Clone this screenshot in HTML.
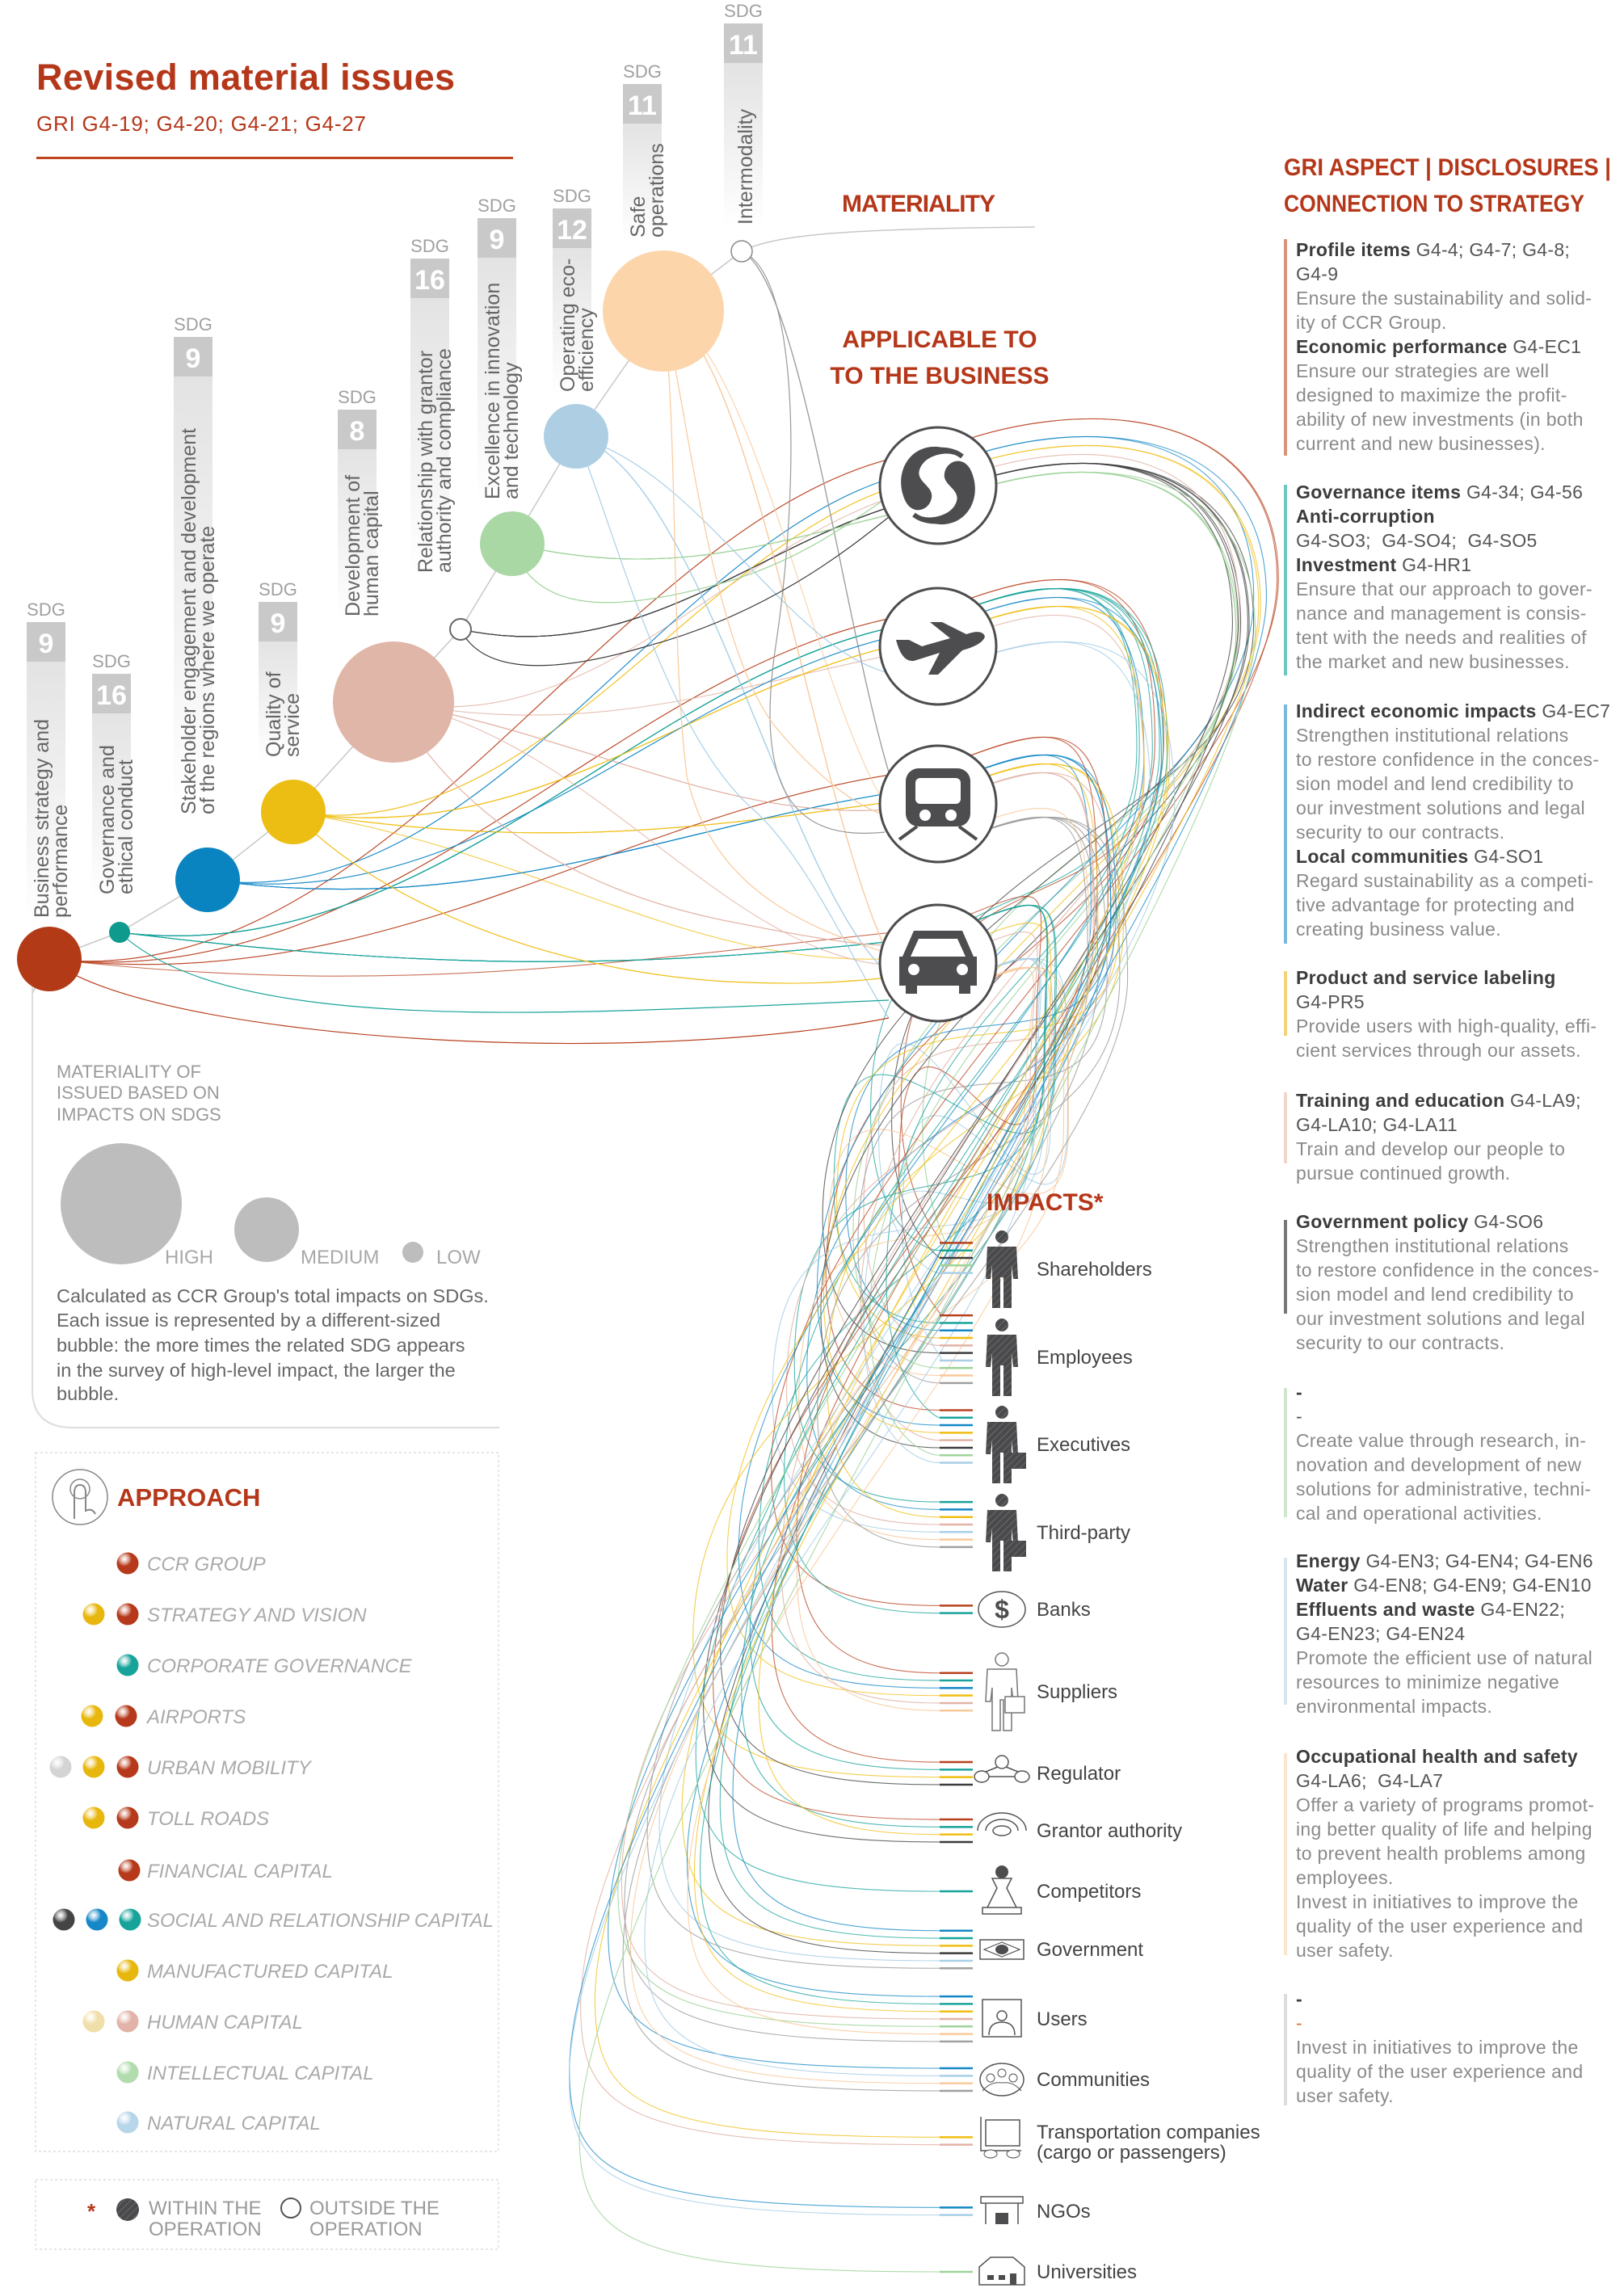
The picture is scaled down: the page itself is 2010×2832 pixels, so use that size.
<!DOCTYPE html>
<html><head><meta charset="utf-8">
<style>
body{margin:0;background:#fff;}
#wrap{position:relative;width:2010px;height:2832px;overflow:hidden;font-family:"Liberation Sans",sans-serif;}
svg{position:absolute;left:0;top:0;}
.blk{position:absolute;left:1604px;font-size:23px;line-height:30px;color:#8a8a8a;white-space:pre;letter-spacing:0.3px;}
.blk b{color:#3c3c3c;}
.blk i{font-style:normal;color:#555;}
.bar{position:absolute;left:1589px;width:4px;}
</style></head><body><div id="wrap">
<svg id="svg" width="2010" height="2832" viewBox="0 0 2010 2832" xmlns="http://www.w3.org/2000/svg" font-family="Liberation Sans, sans-serif">
<defs>
<linearGradient id="sbar" x1="0" y1="0" x2="0" y2="1"><stop offset="0" stop-color="#e3e3e3"/><stop offset="1" stop-color="#fff"/></linearGradient>
<pattern id="hatch" width="6" height="6" patternUnits="userSpaceOnUse" patternTransform="rotate(45)"><rect width="6" height="6" fill="#4a4a4c"/><line x1="0" y1="0" x2="0" y2="6" stroke="#8a8a8a" stroke-width="1"/></pattern>
</defs>
<g id="curves" fill="none"></g>

<text x="45" y="111" font-size="45" font-weight="bold" fill="#b5371a" textLength="518">Revised material issues</text>
<text x="45" y="162" font-size="26" fill="#b5371a" textLength="408">GRI G4-19; G4-20; G4-21; G4-27</text>
<rect x="45" y="194" width="590" height="3" fill="#c0451f"/>

<polyline points="40,1230 61,1187 148,1154 257,1089 363,1005 487,869 570,779 634,673 713,540 821,385 918,311" fill="none" stroke="#c8c8c8" stroke-width="1.5"/>
<path d="M918 311 C960 290 1050 283 1281 281" fill="none" stroke="#c8c8c8" stroke-width="1.5"/>
<line x1="40" y1="1187" x2="40" y2="1720" stroke="#ddd" stroke-width="2"/>
<path d="M40 1720 Q40 1767 90 1767 L618 1767" fill="none" stroke="#ddd" stroke-width="2"/>
<text x="1042" y="262" font-size="30" font-weight="bold" fill="#b5371a" textLength="190">MATERIALITY</text>
<text x="1163" y="430" font-size="30" font-weight="bold" fill="#b5371a" text-anchor="middle">APPLICABLE TO</text>
<text x="1163" y="475" font-size="30" font-weight="bold" fill="#b5371a" text-anchor="middle">TO THE BUSINESS</text>

<g id="sdg"></g>
<g id="bubbles"></g>
<g id="icons"></g>
<g id="stake"></g>

<g fill="#9a9a9a" font-size="22">
<text x="70" y="1334">MATERIALITY OF</text>
<text x="70" y="1360">ISSUED BASED ON</text>
<text x="70" y="1387">IMPACTS ON SDGS</text>
</g>
<circle cx="150" cy="1490" r="75" fill="#bdbdbe"/>
<circle cx="330" cy="1522" r="40" fill="#bdbdbe"/>
<circle cx="511" cy="1550" r="13" fill="#bdbdbe"/>
<g fill="#a8a8a8" font-size="24">
<text x="204" y="1564">HIGH</text><text x="372" y="1564">MEDIUM</text><text x="540" y="1564">LOW</text>
</g>
<g fill="#666" font-size="23.5">
<text x="70" y="1612">Calculated as CCR Group's total impacts on SDGs.</text>
<text x="70" y="1642">Each issue is represented by a different-sized</text>
<text x="70" y="1673">bubble: the more times the related SDG appears</text>
<text x="70" y="1704">in the survey of high-level impact, the larger the</text>
<text x="70" y="1733">bubble.</text>
</g>
<rect x="44" y="1798" width="573" height="865" fill="none" stroke="#ddd" stroke-width="1.5" stroke-dasharray="3,3"/>
<circle cx="99" cy="1853" r="34" fill="#fff" stroke="#888" stroke-width="1.5"/>
<path d="M92 1880 L92 1848 Q92 1838 99 1838 Q106 1838 106 1848 L106 1870 Q114 1866 118 1874" fill="none" stroke="#888" stroke-width="2"/>
<circle cx="99" cy="1843" r="12" fill="none" stroke="#888" stroke-width="1.5"/>
<text x="145" y="1864" font-size="31" font-weight="bold" fill="#b5371a">APPROACH</text>
<g id="approach" font-size="24" font-style="italic" fill="#aaa"></g>
<rect x="44" y="2698" width="573" height="86" fill="none" stroke="#ddd" stroke-width="1.5" stroke-dasharray="3,3"/>
<text x="108" y="2746" font-size="26" font-weight="bold" fill="#b5371a">*</text>
<circle cx="158" cy="2735" r="14" fill="url(#hatch)"/>
<circle cx="360" cy="2733" r="12" fill="#fff" stroke="#555" stroke-width="2"/>
<g fill="#9a9a9a" font-size="24">
<text x="184" y="2741">WITHIN THE</text><text x="184" y="2767">OPERATION</text>
<text x="383" y="2741">OUTSIDE THE</text><text x="383" y="2767">OPERATION</text>
</g>

<text x="1221" y="1498" font-size="30" font-weight="bold" fill="#b5371a">IMPACTS*</text>
<text x="1589" y="217" font-size="30" font-weight="bold" fill="#b5371a" textLength="405" lengthAdjust="spacingAndGlyphs">GRI ASPECT | DISCLOSURES |</text>
<text x="1589" y="262" font-size="30" font-weight="bold" fill="#b5371a" textLength="372" lengthAdjust="spacingAndGlyphs">CONNECTION TO STRATEGY</text>
</svg>

<div class="bar" style="top:296px;height:268px;background:#d9957a"></div>
<div class="blk" style="top:294px"><b>Profile items</b> <i>G4-4; G4-7; G4-8;</i>
<i>G4-9</i>
Ensure the sustainability and solid-
ity of CCR Group.
<b>Economic performance</b> <i>G4-EC1</i>
Ensure our strategies are well
designed to maximize the profit-
ability of new investments (in both
current and new businesses).</div>

<div class="bar" style="top:600px;height:236px;background:#6cc8c0"></div>
<div class="blk" style="top:594px"><b>Governance items</b> <i>G4-34; G4-56</i>
<b>Anti-corruption</b>
<i>G4-SO3;  G4-SO4;  G4-SO5</i>
<b>Investment</b> <i>G4-HR1</i>
Ensure that our approach to gover-
nance and management is consis-
tent with the needs and realities of
the market and new businesses.</div>

<div class="bar" style="top:872px;height:296px;background:#7ab8de"></div>
<div class="blk" style="top:865px"><b>Indirect economic impacts</b> <i>G4-EC7</i>
Strengthen institutional relations
to restore confidence in the conces-
sion model and lend credibility to
our investment solutions and legal
security to our contracts.
<b>Local communities</b> <i>G4-SO1</i>
Regard sustainability as a competi-
tive advantage for protecting and
creating business value.</div>

<div class="bar" style="top:1202px;height:80px;background:#f3d27a"></div>
<div class="blk" style="top:1195px"><b>Product and service labeling</b>
<i>G4-PR5</i>
Provide users with high-quality, effi-
cient services through our assets.</div>

<div class="bar" style="top:1352px;height:88px;background:#f2d6cc"></div>
<div class="blk" style="top:1347px"><b>Training and education</b> <i>G4-LA9;</i>
<i>G4-LA10; G4-LA11</i>
Train and develop our people to
pursue continued growth.</div>

<div class="bar" style="top:1510px;height:116px;background:#777"></div>
<div class="blk" style="top:1497px"><b>Government policy</b> <i>G4-SO6</i>
Strengthen institutional relations
to restore confidence in the conces-
sion model and lend credibility to
our investment solutions and legal
security to our contracts.</div>

<div class="bar" style="top:1718px;height:160px;background:#cfe6cd"></div>
<div class="blk" style="top:1708px"><b>-</b>
<i>-</i>
Create value through research, in-
novation and development of new
solutions for administrative, techni-
cal and operational activities.</div>

<div class="bar" style="top:1928px;height:182px;background:#d6e6f0"></div>
<div class="blk" style="top:1917px"><b>Energy</b> <i>G4-EN3; G4-EN4; G4-EN6</i>
<b>Water</b> <i>G4-EN8; G4-EN9; G4-EN10</i>
<b>Effluents and waste</b> <i>G4-EN22;</i>
<i>G4-EN23; G4-EN24</i>
Promote the efficient use of natural
resources to minimize negative
environmental impacts.</div>

<div class="bar" style="top:2170px;height:250px;background:#fbe5cc"></div>
<div class="blk" style="top:2159px"><b>Occupational health and safety</b>
<i>G4-LA6;  G4-LA7</i>
Offer a variety of programs promot-
ing better quality of life and helping
to prevent health problems among
employees.
Invest in initiatives to improve the
quality of the user experience and
user safety.</div>

<div class="bar" style="top:2468px;height:138px;background:#ddd"></div>
<div class="blk" style="top:2459px"><b>-</b>
<i style="color:#e0703a">-</i>
Invest in initiatives to improve the
quality of the user experience and
user safety.</div>

</div>
<script>
var NS="http://www.w3.org/2000/svg";
function el(p,tag,attrs,txt){var e=document.createElementNS(NS,tag);for(var k in attrs)e.setAttribute(k,attrs[k]);if(txt!==undefined)e.textContent=txt;p.appendChild(e);return e;}
var C={red:"#b8401d",teal:"#17a39a",blue:"#1287c5",yellow:"#f0bd12",pink:"#e2b3a6",black:"#3c3c3c",green:"#9fd49a",lb:"#a8cfe6",orange:"#f9c99a",gray:"#a0a0a0"};
var B={red:[61,1187],teal:[148,1154],blue:[257,1089],yellow:[363,1005],pink:[487,869],black:[570,779],green:[634,673],lb:[713,540],orange:[821,385],gray:[918,311]};
var ICY=[601,800,995,1192],IX=1161,RX=[1555,1430,1375,1295];
var allowed={red:[0,1,2,3],teal:[0,1,2,3],blue:[0,1,2,3],yellow:[0,1,2,3],pink:[0,1,2,3],black:[0],green:[0],lb:[1,3],orange:[1,2,3],gray:[2]};
var S=[
["Shareholders",1571,["red","teal","black","green","lb"],"suit"],
["Employees",1680,["red","teal","blue","yellow","pink","black","lb","green","orange","gray"],"worker"],
["Executives",1788,["red","teal","blue","yellow","pink","black","green","lb"],"exec"],
["Third-party",1897,["teal","blue","yellow","pink","lb","orange","gray"],"exec"],
["Banks",1992,["red","teal"],"bank"],
["Suppliers",2094,["red","teal","blue","yellow","pink","orange"],"sup"],
["Regulator",2195,["red","teal","yellow","black"],"reg"],
["Grantor authority",2266,["red","teal","yellow","black"],"grant"],
["Competitors",2341,["teal"],"comp"],
["Government",2413,["blue","teal","yellow","black","lb","gray"],"gov"],
["Users",2499,["blue","teal","yellow","pink","green","orange","gray"],"users"],
["Communities",2574,["blue","lb","orange","gray"],"comm"],
["Transportation companies",2650,["yellow","pink"],"truck"],
["NGOs",2737,["blue","lb"],"ngo"],
["Universities",2812,["green"],"uni"]];
var seed=7;function rnd(){seed=(seed*9301+49297)%233280;return seed/233280;}
var cg=document.getElementById("curves"),cnt={},stubs=[];
S.forEach(function(s,si){
 var n=s[2].length,y0=s[1]-(n-1)*9.3/2;
 if(si<4){y0=s[1]-14-(n-1)*9.3/2+(si==0?0:4);}
 s[2].forEach(function(col,k){
  var ys=y0+k*9.3;
  cnt[col]=(cnt[col]||0)+1;var al=allowed[col];var ic=al[(cnt[col]+si)%al.length];
  var cy=ICY[ic]+(Object.keys(C).indexOf(col)-4)*11;
  var b=B[col],dx=IX-b[0];
  var rx=RX[ic]+(rnd()*60-30);
  var xL=1120-(ys-1550)*0.3+(rnd()*110-70);
  var d="M"+b[0]+" "+b[1]+" C"+(b[0]+dx*0.4)+" "+(b[1]+50)+" "+(IX-dx*0.35)+" "+(cy+40)+" "+IX+" "+cy+
   " C"+(IX+170)+" "+(cy-70)+" "+rx+" "+(cy-60)+" "+rx+" "+(cy+160)+
   " C"+rx+" "+(cy+420)+" "+xL+" "+(ys-520)+" "+xL+" "+(ys-170)+
   " C"+xL+" "+(ys-40)+" "+(xL+60)+" "+ys+" 1163 "+ys;
  var light=(col=="pink"||col=="orange"||col=="lb"||col=="green"||col=="gray");
  el(cg,"path",{d:d,stroke:C[col],"stroke-opacity":light?0.85:0.75,"stroke-width":1.1});
  stubs.push([ys,C[col]]);
 });
});
[["M918 311 C990 340 990 600 960 800 C930 1000 1000 1040 1095 1030","#999"],
 ["M570 779 C600 840 700 830 800 800 C950 760 1050 680 1100 640","#3c3c3c"],
 ["M634 673 C660 760 760 760 900 720 C1000 690 1060 640 1100 615","#9fd49a"],
 ["M713 540 C760 650 820 900 930 1000 C1000 1060 1060 1200 1100 1260","#a8cfe6"],
 ["M821 385 C850 500 880 800 960 900 C1010 960 1060 1000 1100 1010","#f9c99a"],
 ["M821 385 C840 550 830 800 850 960 C880 1100 1000 1150 1100 1180","#f9c99a"],
 ["M487 869 C560 1000 700 1100 900 1140 C1000 1160 1060 1170 1100 1170","#e2b3a6"],
 ["M363 1005 C450 1100 650 1200 900 1215 C1000 1220 1050 1215 1100 1210","#f0bd12"],
 ["M61 1187 C150 1260 500 1300 800 1290 C950 1285 1050 1270 1100 1260","#b8401d"],
 ["M148 1154 C250 1250 500 1260 800 1250 C950 1245 1050 1240 1100 1238","#17a39a"]
].forEach(function(p){el(cg,"path",{d:p[0],stroke:p[1],"stroke-width":1.2});});
stubs.forEach(function(s){el(cg,"line",{x1:1163,x2:1204,y1:s[0],y2:s[0],stroke:s[1],"stroke-width":2.5});});

var sg=document.getElementById("sdg");
[[33,770,1140,"9",["Business strategy and","performance"]],
 [114,834,1111,"16",["Governance and","ethical conduct"]],
 [215,417,1012,"9",["Stakeholder engagement and development","of the regions where we operate"]],
 [320,745,941,"9",["Quality of","service"]],
 [418,507,767,"8",["Development of","human capital"]],
 [508,320,713,"16",["Relationship with grantor","authority and compliance"]],
 [591,270,622,"9",["Excellence in innovation","and technology"]],
 [684,258,489,"12",["Operating eco-","efficiency"]],
 [771,104,298,"11",["Safe","operations"]],
 [896,29,282,"11",["Intermodality"]]].forEach(function(d){
 var x=d[0],t=d[1];
 el(sg,"rect",{x:x,y:t+49,width:48,height:d[2]-t-49,fill:"url(#sbar)"});
 el(sg,"rect",{x:x,y:t,width:48,height:49,fill:"#c9c9c9"});
 el(sg,"text",{x:x+24,y:t+38,"font-size":34,"font-weight":"bold",fill:"#fff","text-anchor":"middle"},d[3]);
 el(sg,"text",{x:x+24,y:t-8,"font-size":22,fill:"#a0a0a0","text-anchor":"middle"},"SDG");
 var xs=d[4].length==1?[x+35]:[x+27,x+50];
 d[4].forEach(function(L,i){el(sg,"text",{transform:"translate("+xs[i]+","+(d[2]-4)+") rotate(-90)","font-size":25,fill:"#666"},L);});
});
var bg=document.getElementById("bubbles");
[[61,1187,40,"#b23a17"],[148,1154,13,"#0f9a8e"],[257,1089,40,"#0a84c0"],[363,1005,40,"#ecbd12"],[487,869,75,"#dfb6a8"],[713,540,40,"#aecfe3"],[634,673,40,"#a9d8a5"],[821,385,75,"#fcd5aa"]].forEach(function(b){el(bg,"circle",{cx:b[0],cy:b[1],r:b[2],fill:b[3]});});
el(bg,"circle",{cx:570,cy:779,r:13,fill:"#fff",stroke:"#666","stroke-width":2});
el(bg,"circle",{cx:918,cy:311,r:13,fill:"#fff",stroke:"#888","stroke-width":1.5});
var ig=document.getElementById("icons");
ICY.forEach(function(cy,i){
 el(ig,"circle",{cx:IX,cy:cy,r:72,fill:"#fff",stroke:"#4d4d4f","stroke-width":3});
 var g=el(ig,"g",{transform:"translate("+IX+","+cy+")",fill:"#4d4d4f"});
 if(i==0){
  el(g,"path",{d:"M-8 -48 C-40 -45 -55 -10 -40 20 C-30 38 -10 30 -8 15 C-5 0 -30 -5 -22 -22 C-15 -38 10 -42 20 -38 C5 -50 -2 -48 -8 -48Z"});
  el(g,"path",{d:"M8 48 C40 45 55 10 40 -20 C30 -38 10 -30 8 -15 C5 0 30 5 22 22 C15 38 -10 42 -20 38 C-5 50 2 48 8 48Z"});
  el(g,"path",{d:"M-38 -20 C-30 -44 10 -52 30 -36",fill:"none",stroke:"#4d4d4f","stroke-width":6});
  el(g,"path",{d:"M38 20 C30 44 -10 52 -30 36",fill:"none",stroke:"#4d4d4f","stroke-width":6});
 } else if(i==1){
  el(g,"path",{d:"M-52 -8 L-36 -8 L-20 0 L15 -10 L-10 -30 L5 -30 L35 -15 Q55 -22 58 -12 Q55 -2 30 5 L0 35 L-12 35 L2 8 L-30 18 Q-45 20 -52 -8Z"});
 } else if(i==2){
  el(g,"rect",{x:-40,y:-44,width:80,height:72,rx:16});
  el(g,"rect",{x:-28,y:-32,width:56,height:32,rx:6,fill:"#fff"});
  el(g,"circle",{cx:-16,cy:14,r:7,fill:"#fff"});el(g,"circle",{cx:16,cy:14,r:7,fill:"#fff"});
  el(g,"line",{x1:-26,y1:28,x2:-48,y2:44,stroke:"#4d4d4f","stroke-width":4});el(g,"line",{x1:26,y1:28,x2:48,y2:44,stroke:"#4d4d4f","stroke-width":4});
 } else {
  el(g,"path",{d:"M-30 -40 L30 -40 L44 -8 L48 -8 L48 28 L40 28 L40 38 L26 38 L26 28 L-26 28 L-26 38 L-40 38 L-40 28 L-48 28 L-48 -8 L-44 -8Z"});
  el(g,"path",{d:"M-24 -30 L24 -30 L34 -8 L-34 -8Z",fill:"#fff"});
  el(g,"circle",{cx:-30,cy:8,r:7,fill:"#fff"});el(g,"circle",{cx:30,cy:8,r:7,fill:"#fff"});
 }
});
var st=document.getElementById("stake");
S.forEach(function(s){
 var y=s[1],t=s[3],g=el(st,"g",{transform:"translate(1240,"+y+")",fill:"url(#hatch)"});
 function person(outline){var a=outline?{fill:"#fff",stroke:"#777","stroke-width":1.5}:{};
  el(g,"circle",Object.assign({cx:0,cy:-40,r:8},a));
  el(g,"path",Object.assign({d:"M-18 -28 L18 -28 L20 12 L14 12 L12 -5 L12 48 L2 48 L2 10 L-2 10 L-2 48 L-12 48 L-12 -5 L-14 12 L-20 12Z"},a));}
 if(t=="suit"||t=="worker"||t=="exec"){person(false);
  if(t=="exec")el(g,"rect",{x:6,y:10,width:24,height:20});}
 else if(t=="sup"){person(true);el(g,"rect",{x:4,y:6,width:24,height:20,fill:"#fff",stroke:"#777","stroke-width":1.5});}
 else if(t=="bank"){el(g,"ellipse",{cx:0,cy:0,rx:29,ry:22,fill:"#fff",stroke:"#555","stroke-width":1.5});el(g,"text",{x:0,y:11,"font-size":32,"font-weight":"bold","text-anchor":"middle",fill:"#4d4d4f"},"$");}
 else if(t=="reg"){var a={fill:"#fff",stroke:"#555","stroke-width":1.5};el(g,"circle",Object.assign({cx:0,cy:-14,r:8},a));el(g,"ellipse",Object.assign({cx:-25,cy:4,rx:9,ry:7},a));el(g,"ellipse",Object.assign({cx:25,cy:4,rx:9,ry:7},a));el(g,"path",{d:"M-5 -8 L-20 -2 M5 -8 L20 -2 M-16 4 L16 4",stroke:"#555","stroke-width":1.5,fill:"none"});}
 else if(t=="grant"){el(g,"path",{d:"M-30 0 A30 22 0 0 1 30 0 M-20 0 A20 14 0 0 1 20 0",fill:"none",stroke:"#555","stroke-width":1.5});el(g,"ellipse",{cx:0,cy:0,rx:11,ry:6,fill:"#fff",stroke:"#555","stroke-width":1.5});}
 else if(t=="comp"){el(g,"circle",{cx:0,cy:-24,r:8,fill:"#4d4d4f"});el(g,"path",{d:"M-12 -16 L12 -16 L6 -4 L18 20 L-18 20 L-6 -4Z M-24 20 L24 20 L24 28 L-24 28Z",fill:"#fff",stroke:"#555","stroke-width":1.5});}
 else if(t=="gov"){el(g,"rect",{x:-27,y:-12,width:54,height:24,fill:"#fff",stroke:"#555","stroke-width":1.5});el(g,"path",{d:"M-22 0 L0 -9 L22 0 L0 9Z",fill:"none",stroke:"#555","stroke-width":1.2});el(g,"ellipse",{cx:0,cy:0,rx:8,ry:6,fill:"#4d4d4f"});}
 else if(t=="users"){el(g,"rect",{x:-24,y:-24,width:48,height:46,fill:"#fff",stroke:"#555","stroke-width":1.5});el(g,"circle",{cx:0,cy:-4,r:6,fill:"none",stroke:"#555","stroke-width":1.5});el(g,"path",{d:"M-16 20 Q-16 4 0 4 Q16 4 16 20",fill:"none",stroke:"#555","stroke-width":1.5});}
 else if(t=="comm"){el(g,"ellipse",{cx:0,cy:0,rx:27,ry:20,fill:"#fff",stroke:"#555","stroke-width":1.5});el(g,"circle",{cx:0,cy:-8,r:5,fill:"none",stroke:"#555"});el(g,"circle",{cx:-14,cy:-2,r:5,fill:"none",stroke:"#555"});el(g,"circle",{cx:14,cy:-2,r:5,fill:"none",stroke:"#555"});el(g,"path",{d:"M-24 14 Q-14 2 0 4 Q14 2 24 14",fill:"none",stroke:"#555"});}
 else if(t=="truck"){el(g,"rect",{x:-20,y:-26,width:42,height:32,fill:"#fff",stroke:"#555","stroke-width":1.5});el(g,"path",{d:"M-26 -30 L-26 12 L24 12",fill:"none",stroke:"#555","stroke-width":1.5});el(g,"ellipse",{cx:-14,cy:16,rx:8,ry:5,fill:"#fff",stroke:"#555"});el(g,"ellipse",{cx:14,cy:16,rx:8,ry:5,fill:"#fff",stroke:"#555"});}
 else if(t=="ngo"){el(g,"rect",{x:-26,y:-18,width:52,height:8,fill:"#fff",stroke:"#555","stroke-width":1.5});el(g,"path",{d:"M-20 -10 L-20 16 M20 -10 L20 16",stroke:"#555","stroke-width":1.5});el(g,"rect",{x:-8,y:2,width:16,height:14,fill:"#4d4d4f"});}
 else if(t=="uni"){el(g,"path",{d:"M-28 -6 L-14 -18 L14 -18 L28 -6 L28 16 L-28 16Z",fill:"#fff",stroke:"#555","stroke-width":1.5});el(g,"rect",{x:-18,y:4,width:8,height:6,fill:"#4d4d4f"});el(g,"rect",{x:-4,y:4,width:8,height:6,fill:"#4d4d4f"});el(g,"rect",{x:10,y:2,width:8,height:14,fill:"#4d4d4f"});}
 if(s[0]=="Transportation companies"){el(st,"text",{x:1283,y:y-3,"font-size":24,fill:"#444"},"Transportation companies");el(st,"text",{x:1283,y:y+22,"font-size":24,fill:"#444"},"(cargo or passengers)");}
 else el(st,"text",{x:1283,y:y+8,"font-size":24,fill:"#444"},s[0]);
});
var ag=document.getElementById("approach"),defs=document.querySelector("defs");
var DC={red:"#b5391a",yellow:"#e8b70e",teal:"#17a39a",lgray:"#d4d4d4",dark:"#444",blue:"#1687c8",pyel:"#f0dfa8",pink:"#e2b3a8",green:"#b2dcae",lblue:"#b8d6ea"};
Object.keys(DC).forEach(function(k){var g=el(defs,"radialGradient",{id:"g_"+k,cx:"0.35",cy:"0.3",r:"0.75"});el(g,"stop",{offset:"0","stop-color":"#fff","stop-opacity":"0.6"});el(g,"stop",{offset:"0.45","stop-color":DC[k]});el(g,"stop",{offset:"1","stop-color":DC[k]});});
[[1935,"CCR GROUP",[[158,"red"]]],[1998,"STRATEGY AND VISION",[[116,"yellow"],[158,"red"]]],[2061,"CORPORATE GOVERNANCE",[[158,"teal"]]],[2124,"AIRPORTS",[[114,"yellow"],[156,"red"]]],[2187,"URBAN MOBILITY",[[75,"lgray"],[116,"yellow"],[158,"red"]]],[2250,"TOLL ROADS",[[116,"yellow"],[158,"red"]]],[2315,"FINANCIAL CAPITAL",[[160,"red"]]],[2376,"SOCIAL AND RELATIONSHIP CAPITAL",[[79,"dark"],[120,"blue"],[161,"teal"]]],[2439,"MANUFACTURED CAPITAL",[[158,"yellow"]]],[2502,"HUMAN CAPITAL",[[116,"pyel"],[158,"pink"]]],[2565,"INTELLECTUAL CAPITAL",[[158,"green"]]],[2627,"NATURAL CAPITAL",[[158,"lblue"]]]].forEach(function(r){
 r[2].forEach(function(d){el(ag,"circle",{cx:d[0],cy:r[0],r:13.5,fill:"url(#g_"+d[1]+")"});});
 el(ag,"text",{x:182,y:r[0]+9},r[1]);
});
</script>
</body></html>
